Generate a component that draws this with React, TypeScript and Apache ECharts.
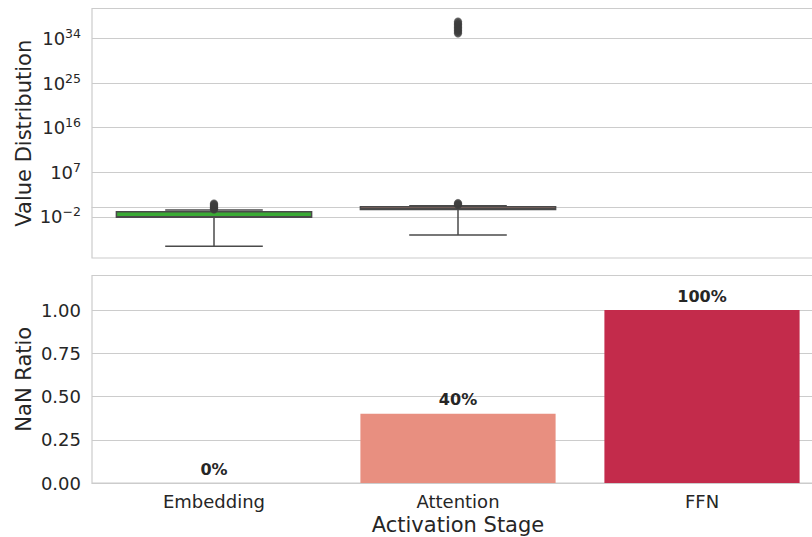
import React, { useEffect, useRef } from 'react';
import * as echarts from 'echarts';

// ---- data ----
const categories = ['Embedding', 'Attention', 'FFN'];
const nanRatio = [0, 0.4, 1.0];
const barColors = ['#f6bba6', '#e88f80', '#c32b4b'];

// box stats: [lower whisker, Q1, median, Q3, upper whisker] (raw values)
const embeddingBox = [1.2e-8, 8e-3, 1.1e-2, 0.11, 0.25];
const attentionBox = [2.1e-6, 0.32, 0.5, 1.05, 1.8];
const boxColors = ['#3aaa35', '#b07a70'];
const embeddingOutliers = [0.3, 0.45, 0.7, 1.1, 1.8, 3, 5];
const attentionOutliers = [2.5, 4, 6, 1e35, 2e35, 4e35, 8e35, 1.5e36, 3e36, 6e36, 1.2e37, 2.5e37];

// log-axis ticks (exponents) and range
const logTicks = [-2, 7, 16, 25, 34];
const logRange = [-10.3, 40.03];
const nanTicks = [0, 0.25, 0.5, 0.75, 1.0];
const nanMax = 1.2;

const FONT = 'DejaVu Sans';
const TXT = '#262626';
const GRID = '#cccccc';
const LINE = '#4a4a4a';

const toAxis = (v: number) => Math.log10(v);

export default function App() {
  const ref = useRef<HTMLDivElement>(null);
  useEffect(() => {
    if (!ref.current) return;
    const chart = echarts.init(ref.current, undefined, { renderer: 'svg' });

    const boxData = [
      [0, ...embeddingBox.map(toAxis)],
      [1, ...attentionBox.map(toAxis)],
    ];
    const outlierData = [
      ...embeddingOutliers.map((v) => [0, toAxis(v)]),
      ...attentionOutliers.map((v) => [1, toAxis(v)]),
    ];

    const renderBox = (params: any, api: any) => {
      const idx = api.value(0);
      const pMin = api.coord([idx, api.value(1)]);
      const pQ1 = api.coord([idx, api.value(2)]);
      const pMed = api.coord([idx, api.value(3)]);
      const pQ3 = api.coord([idx, api.value(4)]);
      const pMax = api.coord([idx, api.value(5)]);
      const band = api.size([1, 0])[0];
      const half = band * 0.4;
      const capHalf = half / 2;
      const cx = pMin[0];
      const ls = { stroke: LINE, lineWidth: 1.5 };
      return {
        type: 'group',
        children: [
          { type: 'line', shape: { x1: cx, y1: pMin[1], x2: cx, y2: pQ1[1] }, style: ls },
          { type: 'line', shape: { x1: cx, y1: pQ3[1], x2: cx, y2: pMax[1] }, style: ls },
          { type: 'line', shape: { x1: cx - capHalf, y1: pMin[1], x2: cx + capHalf, y2: pMin[1] }, style: ls },
          { type: 'line', shape: { x1: cx - capHalf, y1: pMax[1], x2: cx + capHalf, y2: pMax[1] }, style: ls },
          {
            type: 'rect',
            shape: { x: cx - half, y: pQ3[1], width: half * 2, height: pQ1[1] - pQ3[1] },
            style: { fill: boxColors[params.dataIndex], stroke: LINE, lineWidth: 1.5 },
          },
          { type: 'line', shape: { x1: cx - half, y1: pMed[1], x2: cx + half, y2: pMed[1] }, style: ls },
        ],
      };
    };

    chart.setOption({
      animation: false,
      textStyle: { fontFamily: FONT, color: TXT },
      grid: [
        { left: 92, top: 8.5, width: 732, height: 249.5, show: true, borderColor: GRID, borderWidth: 1.2, backgroundColor: 'transparent' },
        { left: 92, top: 275.5, width: 732, height: 207.5, show: true, borderColor: GRID, borderWidth: 1.2, backgroundColor: 'transparent' },
      ],
      xAxis: [
        {
          type: 'category', gridIndex: 0, data: categories,
          axisLine: { lineStyle: { color: GRID, width: 1.2 } },
          axisTick: { show: false }, axisLabel: { show: false }, splitLine: { show: false },
        },
        {
          type: 'category', gridIndex: 1, data: categories,
          axisLine: { lineStyle: { color: GRID, width: 1.2 } },
          axisTick: { show: false },
          axisLabel: { fontSize: 18, color: TXT, fontFamily: FONT, margin: 9 },
          splitLine: { show: false },
          name: 'Activation Stage', nameLocation: 'middle', nameGap: 31, nameMoveOverlap: false,
          nameTextStyle: { fontSize: 21, color: TXT, fontFamily: FONT },
        },
      ],
      yAxis: [
        {
          type: 'value', gridIndex: 0,
          min: logRange[0], max: logRange[1],
          axisLine: { show: false },
          axisTick: { show: false, customValues: logTicks },
          splitLine: { lineStyle: { color: GRID, width: 1.2 } },
          axisLabel: {
            margin: 11,
            customValues: logTicks,
            formatter: (v: number) => {
              const e = Math.round(v);
              const es = e < 0 ? '\u2212' + Math.abs(e) : String(e);
              return `{b|10}{s|${es}}`;
            },
            rich: {
              b: { fontSize: 18, color: TXT, fontFamily: FONT, lineHeight: 23 },
              s: { fontSize: 12.5, color: TXT, fontFamily: FONT, verticalAlign: 'top' },
            },
          },
          name: 'Value Distribution', nameLocation: 'middle', nameGap: 58, nameMoveOverlap: false,
          nameTextStyle: { fontSize: 21, color: TXT, fontFamily: FONT },
        },
        {
          type: 'value', gridIndex: 1, min: 0, max: nanMax, interval: nanTicks[1] - nanTicks[0],
          axisLine: { show: false }, axisTick: { show: false },
          splitLine: { lineStyle: { color: GRID, width: 1.2 } },
          axisLabel: {
            margin: 11, fontSize: 18, color: TXT, fontFamily: FONT,
            formatter: (v: number) => (nanTicks.some((t) => Math.abs(t - v) < 1e-9) ? v.toFixed(2) : ''),
          },
          name: 'NaN Ratio', nameLocation: 'middle', nameGap: 58, nameMoveOverlap: false,
          nameTextStyle: { fontSize: 21, color: TXT, fontFamily: FONT },
        },
      ],
      series: [
        {
          type: 'custom', xAxisIndex: 0, yAxisIndex: 0,
          renderItem: renderBox, data: boxData,
          encode: { x: 0, y: [1, 2, 3, 4, 5] }, z: 3,
        },
        {
          type: 'scatter', xAxisIndex: 0, yAxisIndex: 0,
          data: outlierData, symbol: 'circle', symbolSize: 7.5,
          itemStyle: { color: '#3d3d3d', borderColor: '#3d3d3d', borderWidth: 0.5 }, z: 4,
        },
        {
          type: 'bar', xAxisIndex: 1, yAxisIndex: 1, barWidth: '80%',
          data: nanRatio.map((v, i) => ({ value: v, itemStyle: { color: barColors[i] } })),
          label: {
            show: true, position: 'top', distance: 6,
            formatter: (p: any) => `${Math.round(p.value * 100)}%`,
            fontSize: 16, fontWeight: 'bold', color: TXT, fontFamily: FONT,
          },
        },
      ],
    });
    return () => chart.dispose();
  }, []);
  return <div ref={ref} style={{ position: 'fixed', left: 0, top: 0, width: 850, height: 537, background: '#fff' }} />;
}
